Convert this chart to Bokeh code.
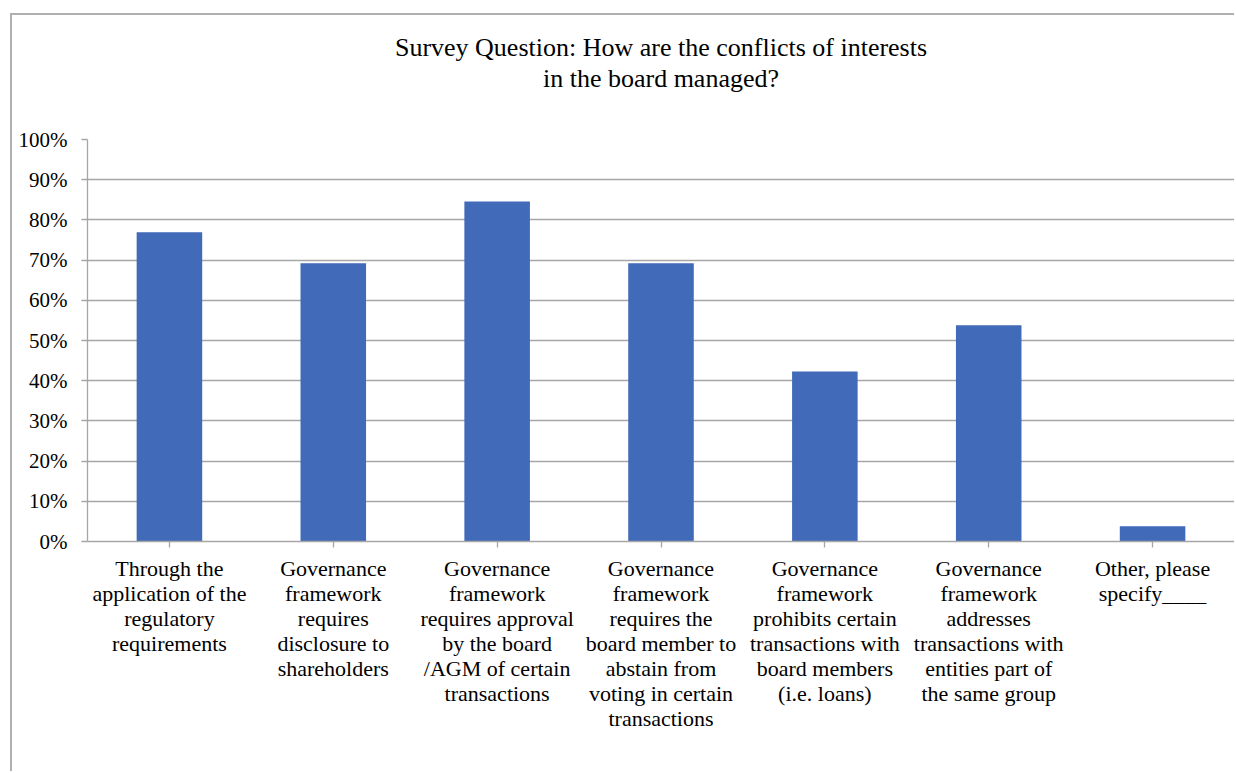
from bokeh.plotting import figure
from bokeh.models import ColumnDataSource, Title, FixedTicker, NumeralTickFormatter
from bokeh.embed import file_html
from bokeh.resources import INLINE

title_lines = ["Survey Question: How are the conflicts of interests", "in the board managed?"]
categories = [
    "Through the\napplication of the\nregulatory\nrequirements",
    "Governance\nframework\nrequires\ndisclosure to\nshareholders",
    "Governance\nframework\nrequires approval\nby the board\n/AGM of certain\ntransactions",
    "Governance\nframework\nrequires the\nboard member to\nabstain from\nvoting in certain\ntransactions",
    "Governance\nframework\nprohibits certain\ntransactions with\nboard members\n(i.e. loans)",
    "Governance\nframework\naddresses\ntransactions with\nentities part of\nthe same group",
    "Other, please\nspecify____",
]
values = [0.769, 0.692, 0.846, 0.692, 0.423, 0.538, 0.038]
y_ticks = [0, 0.1, 0.2, 0.3, 0.4, 0.5, 0.6, 0.7, 0.8, 0.9, 1.0]

FONT = "Liberation Serif"
GRID = "#a6a6a6"

src = ColumnDataSource(dict(cat=categories, val=values))

p = figure(width=1224, height=758, x_range=categories, y_range=(0, 1.0),
           output_backend="svg", toolbar_location=None,
           min_border_left=75, min_border_right=2, min_border_top=124, min_border_bottom=232,
           styles={"margin-left": "10px", "margin-top": "13px",
                   "border-left": "2px solid #b0b0b0", "border-top": "2px solid #b0b0b0"})
p.vbar(x="cat", top="val", width=0.4, source=src, fill_color="#416AB9", line_color=None)

p.outline_line_color = None
p.background_fill_color = "white"
p.border_fill_color = "white"

p.xgrid.grid_line_color = None
p.ygrid.grid_line_color = GRID
p.ygrid.grid_line_width = 1.3
p.ygrid.ticker = FixedTicker(ticks=y_ticks)

p.yaxis.ticker = FixedTicker(ticks=y_ticks)
p.yaxis.formatter = NumeralTickFormatter(format="0%")
p.yaxis.axis_line_color = GRID
p.yaxis.axis_line_width = 1.3
p.yaxis.major_tick_line_color = GRID
p.yaxis.major_tick_line_width = 1.3
p.yaxis.major_tick_out = 6
p.yaxis.major_tick_in = 0
p.yaxis.minor_tick_line_color = None
p.yaxis.major_label_text_font = FONT
p.yaxis.major_label_text_font_size = "21px"
p.yaxis.major_label_text_color = "#000000"
p.yaxis.major_label_standoff = 14

p.xaxis.axis_line_color = GRID
p.xaxis.axis_line_width = 1.3
p.xaxis.major_tick_line_color = GRID
p.xaxis.major_tick_line_width = 1.3
p.xaxis.major_tick_out = 6
p.xaxis.major_tick_in = 0
p.xaxis.major_label_text_font = FONT
p.xaxis.major_label_text_font_size = "22px"
p.xaxis.major_label_text_color = "#000000"
p.xaxis.major_label_text_line_height = 1.0
p.xaxis.major_label_standoff = 8

# spacer between the frame and the two title lines
spacer = Title(text=" ", align="center", text_font=FONT, text_font_size="26px", standoff=16)
t2 = Title(text=title_lines[1], align="center", text_font=FONT, text_font_size="26px",
           text_font_style="normal", text_color="#000000", standoff=0)
t1 = Title(text=title_lines[0], align="center", text_font=FONT, text_font_size="26px",
           text_font_style="normal", text_color="#000000", standoff=0)
p.add_layout(spacer, "above")
p.add_layout(t2, "above")
p.add_layout(t1, "above")

open("out.html", "w").write(file_html(p, INLINE))
